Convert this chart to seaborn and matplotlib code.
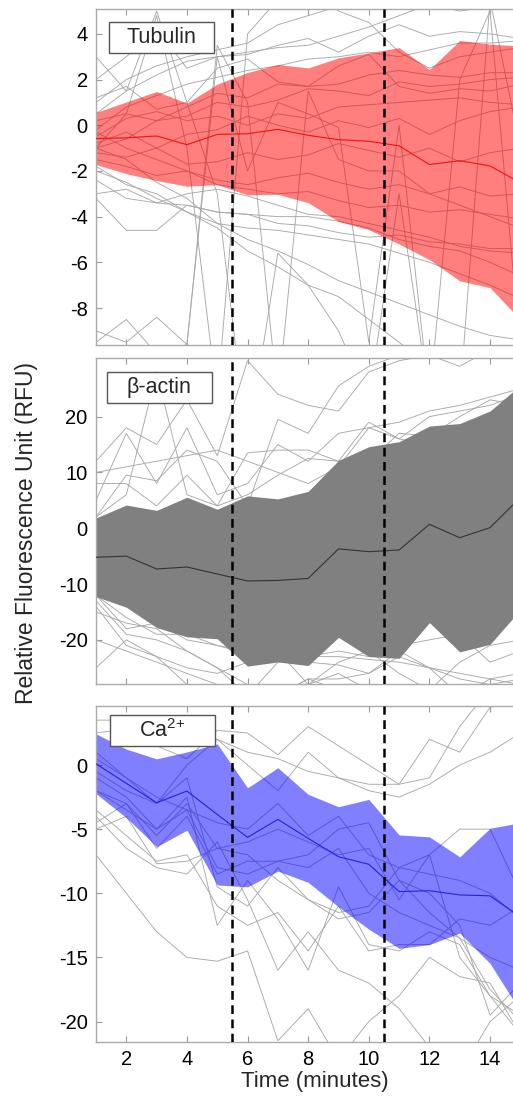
import numpy as np
import pandas as pd
import matplotlib
matplotlib.use("Agg")
import matplotlib.pyplot as plt
from matplotlib.patches import Rectangle
import seaborn as sns

# -----------------------
# Data (time points 1..15 min)
# -----------------------
time = list(range(1, 16))

tub_mean = [-0.58, -0.55, -0.47, -0.85, -0.40, -0.37, -0.18, -0.44, -0.63, -0.70, -0.90, -1.72, -1.55, -1.78, -2.52]
tub_sd = [1.14, 1.57, 1.95, 1.82, 2.20, 2.68, 2.84, 2.95, 3.58, 3.87, 4.30, 4.16, 5.26, 5.33, 5.99]
tub_traces = [
    [1.0, 2.0, 2.6, 3.0, 3.3, 3.6, 4.4, 4.8, 5.2, 5.5, 5.8, 6.0, 6.2, 6.5, 6.8],
    [0.5, 1.5, 2.2, 2.8, 3.0, 3.2, 3.4, 3.5, 3.9, 4.3, 4.8, 5.3, 5.0, 5.2, 5.4],
    [2.0, 3.0, 4.2, 2.5, 3.0, 3.1, 3.5, 3.8, 3.2, 3.9, 4.4, 3.9, 4.1, 4.0, 3.8],
    [-0.2, 0.8, 1.3, 1.8, 2.1, 2.4, 2.6, 2.9, 3.0, 3.2, 3.0, 3.3, 3.6, 3.6, 3.7],
    [-1.0, -0.6, 0.2, 0.8, 1.4, 1.2, 1.8, 1.7, 1.8, 2.2, 2.4, 2.2, 2.1, 2.3, 2.3],
    [0.2, 0.5, 0.2, 0.4, 1.0, 0.8, 1.1, 1.6, 1.5, 1.3, 1.9, 1.7, 1.8, 2.0, 2.1],
    [-0.5, 0.3, 0.6, 0.2, 0.4, 0.0, 0.5, 0.3, 0.8, 0.9, 1.0, 1.1, 1.2, 1.0, 0.9],
    [-0.8, -0.3, -1.0, -0.4, -0.2, 0.4, 0.0, -0.3, 0.2, -0.1, 0.3, -0.4, 0.2, 0.6, 0.8],
    [-1.2, -1.4, -1.0, -1.7, -1.6, -1.2, -1.5, -1.3, -0.8, -1.1, -1.4, -1.0, -1.6, -1.2, -1.0],
    [-1.5, -1.8, -2.2, -2.0, -2.4, -2.6, -2.3, -2.1, -2.5, -2.8, -2.6, -3.0, -2.7, -3.1, -3.0],
    [-0.3, -1.0, -1.5, -2.0, -2.6, -2.8, -3.0, -2.9, -3.3, -3.6, -3.5, -3.8, -3.7, -3.9, -4.1],
    [-2.0, -2.5, -3.2, -3.8, -4.3, -4.5, -4.6, -4.8, -5.0, -5.2, -5.6, -6.0, -6.5, -7.0, -7.6],
    [-3.0, -2.8, -3.4, -3.0, -2.8, -3.1, -3.5, -3.9, -4.0, -4.3, -4.6, -4.9, -5.3, -5.5, -5.6],
    [-1.8, -2.6, -3.0, -3.8, -4.5, -5.5, -6.2, -7.0, -7.5, -8.5, -9.5, -10.5, -11.0, -11.5, -12.0],
    [-1.0, -1.5, -2.5, -3.2, -4.3, -5.0, -5.5, -6.1, -6.8, -7.3, -7.8, -8.3, -8.8, -9.2, -9.4],
    [-2.4, -3.2, -3.4, -3.5, -3.8, -3.9, -4.0, -4.0, -4.2, -4.5, -5.0, -5.3, -5.5, -6.0, -6.6],
    [-3.2, -4.6, -4.6, -3.5, -3.8, -3.9, -4.3, -4.4, -4.7, -4.9, -4.8, -5.1, -5.2, -5.4, -5.4],
    [-1.0, 0.5, 4.8, -1.0, -12.0, 4.0, 5.5, 6.0, 5.0, 4.5, 3.2, 2.5, 3.0, 3.2, 3.4],
    [-9.0, -9.5, -8.4, -9.6, 3.0, -2.0, 1.0, 0.5, -0.1, -9.5, 0.0, -12.0, 2.0, 5.0, -10.0],
    [3.0, 1.5, 5.0, 1.0, -3.0, -14.0, -5.6, -7.0, -9.0, -12.0, -3.0, -12.0, -12.0, 5.5, -1.0],
    [-9.5, -8.5, -10.0, -9.6, 3.5, 1.0, -12.0, 1.5, -1.5, -2.0, -2.0, -3.0, -3.5, -4.0, -4.5],
    [1.2, 1.7, 0.7, 1.0, 2.5, 2.9, 1.9, 1.7, 2.6, 3.1, 1.7, 1.4, 1.6, 1.5, 1.8],
]

act_mean = [-5.2, -5.0, -7.3, -6.95, -8.2, -9.45, -9.35, -9.0, -3.7, -4.2, -3.9, 0.7, -1.7, 0.1, 5.5]
act_sd = [7.05, 9.15, 10.5, 12.5, 11.6, 15.25, 14.6, 15.6, 15.85, 18.8, 19.4, 17.6, 20.45, 20.9, 20.1]
act_traces = [
    [12, 18, 15, 23, 13, 30, 24, 22, 21, 28, 30, 31, 29, 32, 33],
    [2, 9.5, 8.5, 14, 12, 4, 19.5, 17, 25.5, 29, 31, 32, 32, 33, 34],
    [5, 17, 8, 18, 6, 8, 15, 12, 17, 18, 19, 21, 22, 23.5, 25],
    [8, 8, 4, 9.5, 4, 13.5, 14, 14, 12, 19, 16, 20, 21, 22, 24],
    [2, 6, 28, 6, 4, 6, 9.5, 12.5, 12, 12, 17, 16.5, 20, 23, 22],
    [-12, -16, -19, -19, -21, -22.5, -23, -23, -23, -23.5, -24, -25, -26, -27, -28],
    [-13, -19, -20, -22, -25, -30, -24, -23, -22, -23, -21, -20, -19, -24, -22],
    [-14, -21, -23, -28, -31, -35, -30, -27, -27, -26, -23, -25, -27, -28, -27],
    [-12, -18, -17, -20, -21, -22, -23.5, -24, -24.5, -26, -22, -25, -30, -27, -26],
    [-15, -17, -18, -22, -25, -28, -30, -27, -29, -30, -32, -28, -30, -32, -30],
    [-20, -22, -24, -26, -28, -30, -31, -28, -26, -29, -30, -29, -30, -29, -28],
    [-5, 0, -2, -8, -4, -10, -8, -6, -4, 0, 2, 5, 3, 6, 8],
    [10, 11, 12, 13, 14, 12, 10, 8, 11, 18, 16, 15, 12, 14, 13],
    [-25, -20, -23, -25, -26, -24, -22, -28, -24, -22, -26, -29, -24, -21, -20],
]

ca_mean = [0.1, -1.43, -2.94, -2.03, -3.85, -5.64, -4.24, -5.72, -7.15, -7.74, -9.87, -9.8, -10.13, -10.2, -11.85]
ca_sd = [2.33, 2.67, 3.42, 3.05, 5.5, 3.86, 4.03, 3.43, 3.9, 5.06, 4.42, 4.2, 2.97, 5.27, 7.35]
ca_traces = [
    [3.5, 3.5, 3.0, 2.5, 2.0, 1.0, 0.5, -0.5, -1.0, -1.5, -1.5, -1.0, 3.0, 6.0, 6.0],
    [2.5, 2.8, 1.5, 0.5, 2.7, 2.5, 0.8, 3.0, 1.5, 0.0, -1.5, 2.0, 1.0, 4.5, 5.0],
    [0.5, -1.0, -3.0, 0.0, 2.0, 0.0, -2.0, 1.0, -1.0, -2.0, -2.5, -1.5, 0.0, 1.0, 2.5],
    [-1.0, -2.5, -5.0, -3.5, -4.5, -5.0, -3.0, -5.5, -4.0, -7.0, -8.0, -8.5, -9.0, -10.0, -12.0],
    [-2.0, -3.0, -6.5, -4.0, -8.5, -7.5, -7.5, -8.0, -6.5, -10.0, -11.5, -12.5, -13.5, -15.0, -16.0],
    [-3.5, -5.5, -7.5, -7.0, -11.0, -12.5, -11.5, -14.5, -11.0, -14.5, -14.0, -14.0, -12.0, -12.5, -11.0],
    [-4.0, -6.5, -8.0, -8.5, -6.0, -10.5, -16.0, -13.0, -16.0, -17.0, -19.0, -22.0, -24.0, -20.0, -18.0],
    [-7.0, -10.0, -13.0, -15.0, -15.3, -14.5, -21.5, -19.0, -23.0, -20.0, -18.0, -15.0, -16.5, -17.0, -21.0],
    [-2.0, -3.5, -5.0, -2.5, -12.5, -9.0, -12.0, -16.0, -9.5, -14.0, -14.5, -13.0, -14.0, -18.0, -19.5],
    [-0.5, -2.0, -3.0, -1.0, -9.5, -11.0, -8.0, -10.5, -12.0, -11.5, -9.0, -11.5, -13.5, -17.5, -20.0],
    [1.0, -1.0, -2.5, -3.5, -8.0, -8.5, -7.5, -7.0, -5.0, -4.5, -9.0, -10.0, -12.5, -19.5, -17.0],
    [-4.5, -3.0, -5.5, -3.0, -6.5, -6.0, -5.0, -6.0, -7.0, -6.5, -10.5, -7.0, -15.0, -18.0, -21.0],
    [-5.0, -4.0, -7.7, -7.5, -6.5, -7.0, -9.0, -10.5, -11.5, -11.0, -8.0, -7.0, -5.0, -5.0, -10.0],
]

labels = ["Tubulin", "\u03b2-actin", "Ca$^{2{+}}$"]
stim_times = [5.5, 10.5]

# -----------------------
# Style
# -----------------------
sns.set_style("ticks")
plt.rcParams["font.family"] = ["Liberation Sans", "DejaVu Sans"]
plt.rcParams["mathtext.default"] = "regular"
plt.rcParams["axes.unicode_minus"] = False

fig = plt.figure(figsize=(5.13, 10.97), dpi=100)

left, width = 96 / 513, 438 / 513
panels = [
    dict(rect=[left, 0.6855, width, 0.3063], mean=tub_mean, sd=tub_sd, traces=tub_traces,
         fill="red", fill_alpha=0.5, line="#ee1111", ylim=(-9.62, 5.09), yticks=np.arange(-8, 5, 2),
         box=(0.029, 0.869)),
    dict(rect=[left, 0.3765, width, 0.2972], mean=act_mean, sd=act_sd, traces=act_traces,
         fill="#808080", fill_alpha=1.0, line="#333333", ylim=(-27.9, 30.5), yticks=np.arange(-20, 21, 10),
         box=(0.024, 0.862)),
    dict(rect=[left, 0.0501, width, 0.3063], mean=ca_mean, sd=ca_sd, traces=ca_traces,
         fill="blue", fill_alpha=0.5, line="#2222dd", ylim=(-21.6, 4.6), yticks=np.arange(-20, 1, 5),
         box=(0.031, 0.881)),
]

axes = []
for p, lab in zip(panels, labels):
    ax = fig.add_axes(p["rect"])
    axes.append(ax)

    rows = []
    for i, tr in enumerate(p["traces"]):
        for t, v in zip(time, tr):
            rows.append({"time": t, "value": v, "cell": i})
    df = pd.DataFrame(rows)

    # individual cells
    sns.lineplot(data=df, x="time", y="value", units="cell", estimator=None,
                 color="#a8a8a8", linewidth=0.65, ax=ax, legend=False, zorder=1)

    # mean +/- sd
    mean = np.array(p["mean"])
    sd = np.array(p["sd"])
    ax.fill_between(time, mean - sd, mean + sd, color=p["fill"], alpha=p["fill_alpha"],
                    linewidth=0, zorder=2)
    sns.lineplot(x=time, y=mean, color=p["line"], linewidth=0.8, ax=ax, zorder=3)

    for st in stim_times:
        ax.axvline(st, color="black", linewidth=1.8, linestyle=(0, (3.5, 2.2)), zorder=4)

    ax.set_xlim(1, 15.45)
    ax.set_ylim(*p["ylim"])
    ax.set_xticks(range(2, 15, 2))
    ax.set_yticks(p["yticks"])
    ax.set_xlabel("")
    ax.set_ylabel("")
    ax.tick_params(direction="in", length=4, width=0.8, color="#999999",
                   labelsize=14.5, labelcolor="black", top=True, pad=6)
    for s in ax.spines.values():
        s.set_color("#aaaaaa")
        s.set_linewidth(1.0)
    ax.spines["right"].set_visible(False)

    # label box
    bx, by = p["box"]
    bw = 105 / 438
    bh = 31 / (p["rect"][3] * 1097)
    ax.add_patch(Rectangle((bx, by), bw, bh, transform=ax.transAxes, facecolor="white",
                           edgecolor="#555555", linewidth=1.0, zorder=6))
    ax.text(bx + bw / 2, by + bh / 2, lab, transform=ax.transAxes, ha="center", va="center",
            fontsize=15.5, zorder=7)

for ax in axes[:2]:
    ax.tick_params(labelbottom=False)

axes[2].set_xlabel("Time (minutes)", fontsize=16, labelpad=1)
fig.text(27 / 513, 1 - 533 / 1097, "Relative Fluorescence Unit (RFU)", rotation=90,
         ha="center", va="center", fontsize=16.5)

fig.savefig("out.png", dpi=100)
